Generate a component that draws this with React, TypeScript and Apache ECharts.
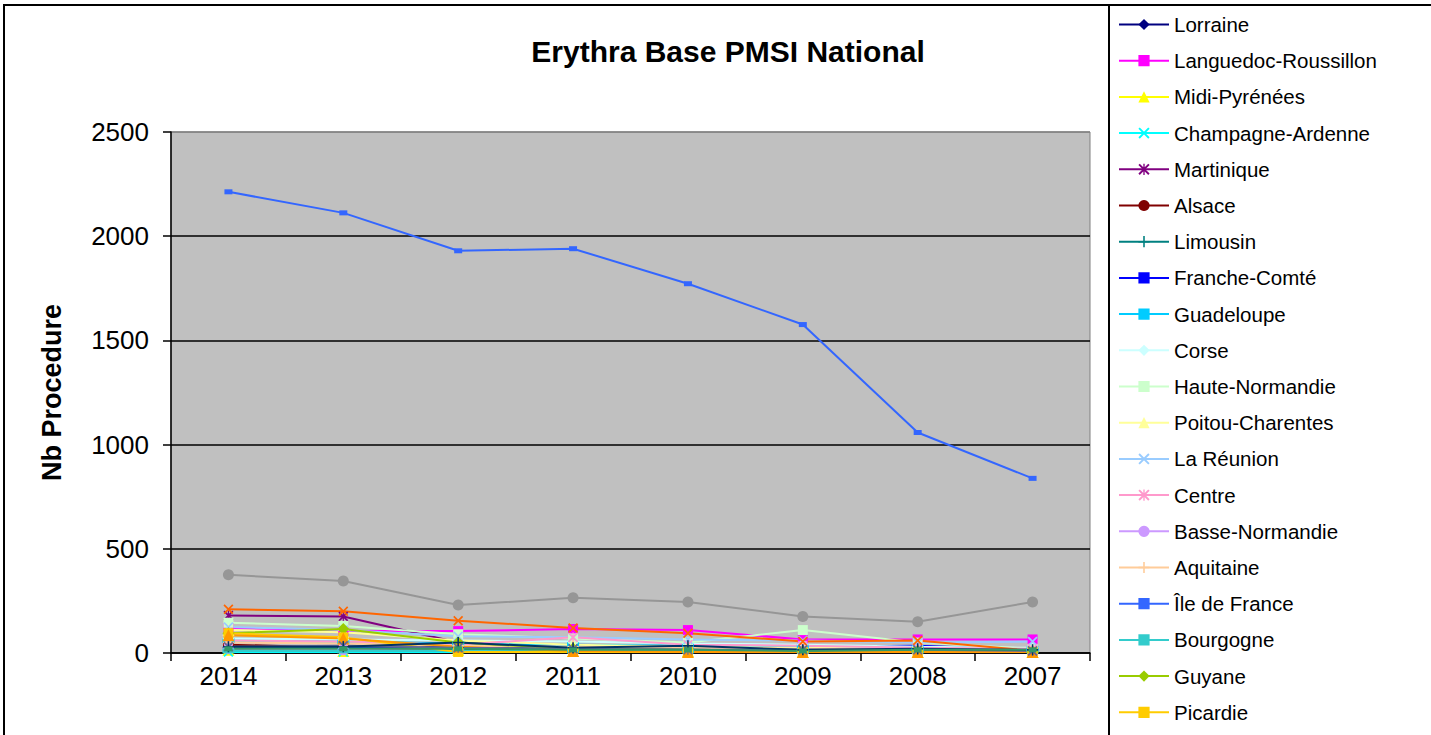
import React, { useEffect, useRef } from "react";
import * as echarts from "echarts";

const years = ["2014", "2013", "2012", "2011", "2010", "2009", "2008", "2007"];
const yTicks = [0, 500, 1000, 1500, 2000, 2500];

const lorraine = [25, 25, 30, 25, 20, 20, 25, 15];
const languedoc = [120, 105, 105, 115, 110, 65, 65, 65];
const midiPyrenees = [15, 10, 15, 10, 10, 5, 5, 5];
const champagne = [5, 5, 5, 5, 5, 5, 5, 5];
const martinique = [180, 175, 50, 25, 20, 15, 15, 10];
const alsace = [40, 25, 20, 10, 10, 10, 10, 10];
const limousin = [30, 25, 20, 20, 15, 10, 10, 15];
const francheComte = [20, 20, 25, 15, 20, 30, 35, 15];
const guadeloupe = [60, 55, 45, 40, 35, 30, 25, 20];
const corse = [70, 65, 60, 55, 45, 40, 30, 25];
const hauteNormandie = [145, 130, 90, 70, 50, 110, 50, 20];
const poitou = [110, 100, 60, 40, 30, 25, 20, 15];
const reunion = [125, 110, 80, 75, 65, 60, 50, 55];
const centre = [60, 55, 40, 75, 40, 35, 25, 20];
const basseNormandie = [20, 15, 10, 10, 10, 10, 5, 5];
const aquitaine = [50, 45, 35, 30, 25, 20, 15, 10];
const ileDeFrance = [2213, 2112, 1930, 1940, 1772, 1576, 1058, 838];
const bourgogne = [10, 10, 10, 10, 10, 10, 10, 10];
const guyane = [95, 115, 50, 20, 15, 10, 10, 5];
const picardie = [95, 75, 5, 5, 5, 5, 5, 5];
const auvergne = [85, 70, 30, 10, 5, 5, 5, 5];
const paca = [210, 200, 155, 120, 95, 55, 60, 10];
const bretagne = [30, 35, 25, 20, 15, 15, 15, 10];
const rhoneAlpes = [375, 345, 230, 265, 245, 175, 150, 245];
const nordPdc = [30, 30, 50, 25, 35, 15, 20, 15];
const paysLoire = [20, 20, 20, 15, 15, 10, 15, 15];

const X_PATH = "path://M0,1.2L1.2,0L10,8.8L8.8,10Z M8.8,0L10,1.2L1.2,10L0,8.8Z";
const STAR_PATH = "path://M0,1.2L1.2,0L10,8.8L8.8,10Z M8.8,0L10,1.2L1.2,10L0,8.8Z M4.4,0L5.6,0L5.6,10L4.4,10Z";
const PLUS_PATH = "path://M4.3,0H5.7V4.3H10V5.7H5.7V10H4.3V5.7H0V4.3H4.3Z";

type Marker = { symbol: string; size: number | number[] };
const M: Record<string, Marker> = {
  diamond: { symbol: "diamond", size: 12 },
  square: { symbol: "rect", size: 10 },
  triangle: { symbol: "triangle", size: 12 },
  x: { symbol: X_PATH, size: 10 },
  star: { symbol: STAR_PATH, size: 10 },
  circle: { symbol: "circle", size: 11 },
  plus: { symbol: PLUS_PATH, size: 11 },
  shortBar: { symbol: "rect", size: [8, 5] },
  longBar: { symbol: "rect", size: [12, 5] },
};

const seriesDefs: [string, number[], string, string][] = [
  ["Lorraine", lorraine, "#000080", "diamond"],
  ["Languedoc-Roussillon", languedoc, "#FF00FF", "square"],
  ["Midi-Pyrénées", midiPyrenees, "#FFFF00", "triangle"],
  ["Champagne-Ardenne", champagne, "#00FFFF", "x"],
  ["Martinique", martinique, "#800080", "star"],
  ["Alsace", alsace, "#800000", "circle"],
  ["Limousin", limousin, "#008080", "plus"],
  ["Franche-Comté", francheComte, "#0000FF", "shortBar"],
  ["Guadeloupe", guadeloupe, "#00CCFF", "longBar"],
  ["Corse", corse, "#CCFFFF", "diamond"],
  ["Haute-Normandie", hauteNormandie, "#CCFFCC", "square"],
  ["Poitou-Charentes", poitou, "#FFFF99", "triangle"],
  ["La Réunion", reunion, "#99CCFF", "x"],
  ["Centre", centre, "#FF99CC", "star"],
  ["Basse-Normandie", basseNormandie, "#CC99FF", "circle"],
  ["Aquitaine", aquitaine, "#FFCC99", "plus"],
  ["Île de France", ileDeFrance, "#3366FF", "shortBar"],
  ["Bourgogne", bourgogne, "#33CCCC", "longBar"],
  ["Guyane", guyane, "#99CC00", "diamond"],
  ["Picardie", picardie, "#FFCC00", "square"],
  ["Auvergne", auvergne, "#FF9900", "triangle"],
  ["Provence-Alpes-Côte d'Azur", paca, "#FF6600", "x"],
  ["Bretagne", bretagne, "#666699", "star"],
  ["Rhône-Alpes", rhoneAlpes, "#969696", "circle"],
  ["Nord-Pas-de-Calais", nordPdc, "#003366", "plus"],
  ["Pays de la Loire", paysLoire, "#339966", "shortBar"],
];

const legendNames = seriesDefs.slice(0, 20).map((d) => d[0]);
const FONT = "'Liberation Sans', Arial, sans-serif";

export default function App() {
  const ref = useRef<HTMLDivElement>(null);
  useEffect(() => {
    if (!ref.current) return;
    const chart = echarts.init(ref.current, null, { renderer: "svg" });
    const series = seriesDefs.map(([name, data, color, mk]) => ({
      name,
      type: "line",
      data,
      symbol: M[mk].symbol,
      symbolSize: M[mk].size,
      showSymbol: true,
      lineStyle: { color, width: 2 },
      itemStyle: { color, borderWidth: 0 },
      emphasis: { disabled: true },
    }));
    chart.setOption({
      animation: false,
      backgroundColor: "#FFFFFF",
      textStyle: { fontFamily: FONT },
      title: {
        text: "Erythra Base PMSI National",
        left: 723,
        top: 31,
        textAlign: "center",
        textStyle: { fontSize: 30, fontWeight: "bold", color: "#000", fontFamily: FONT },
      },
      grid: {
        left: 171,
        right: 341,
        top: 132,
        bottom: 82,
        show: true,
        backgroundColor: "#C0C0C0",
        borderColor: "#808080",
        borderWidth: 1,
        containLabel: false,
      },
      legend: {
        data: legendNames,
        orient: "vertical",
        left: 1118,
        top: 14,
        height: 900,
        padding: 0,
        itemWidth: 50,
        itemHeight: 14,
        itemGap: 15.2,
        textStyle: { fontSize: 20.5, color: "#000", fontFamily: FONT },
        selectedMode: false,
      },
      xAxis: {
        type: "category",
        data: years,
        boundaryGap: true,
        axisLine: { show: true, lineStyle: { color: "#000", width: 1.5 } },
        axisTick: { show: true, length: 8, lineStyle: { color: "#000", width: 1.5 } },
        axisLabel: { fontSize: 26, color: "#000", margin: 10, fontFamily: FONT },
        splitLine: { show: false },
      },
      yAxis: {
        type: "value",
        min: yTicks[0],
        max: yTicks[yTicks.length - 1],
        interval: 500,
        name: "Nb Procedure",
        nameLocation: "middle",
        nameRotate: 90,
        nameGap: 106,
        nameTextStyle: { fontSize: 27, fontWeight: "bold", color: "#000", fontFamily: FONT },
        axisLine: { show: true, lineStyle: { color: "#000", width: 1.5 } },
        axisTick: { show: true, length: 8, lineStyle: { color: "#000", width: 1.5 } },
        axisLabel: {
          fontSize: 26,
          color: "#000",
          margin: 22,
          fontFamily: FONT,
          formatter: (v: number) => String(v),
        },
        splitLine: {
          show: true,
          lineStyle: { color: ["#000", "#000", "#000", "#000", "#000", "#808080"], width: 1.5 },
        },
      },
      graphic: [
        {
          type: "rect",
          shape: { x: 4, y: 5, width: 1440, height: 740 },
          style: { fill: "none", stroke: "#000", lineWidth: 2 },
          silent: true,
          z: 100,
        },
        {
          type: "rect",
          shape: { x: 1109, y: 5, width: 340, height: 740 },
          style: { fill: "none", stroke: "#000", lineWidth: 2 },
          silent: true,
          z: 100,
        },
      ],
      series,
    });
    return () => chart.dispose();
  }, []);
  return (
    <div
      ref={ref}
      style={{ position: "fixed", left: 0, top: 0, width: 1431, height: 735 }}
    />
  );
}
